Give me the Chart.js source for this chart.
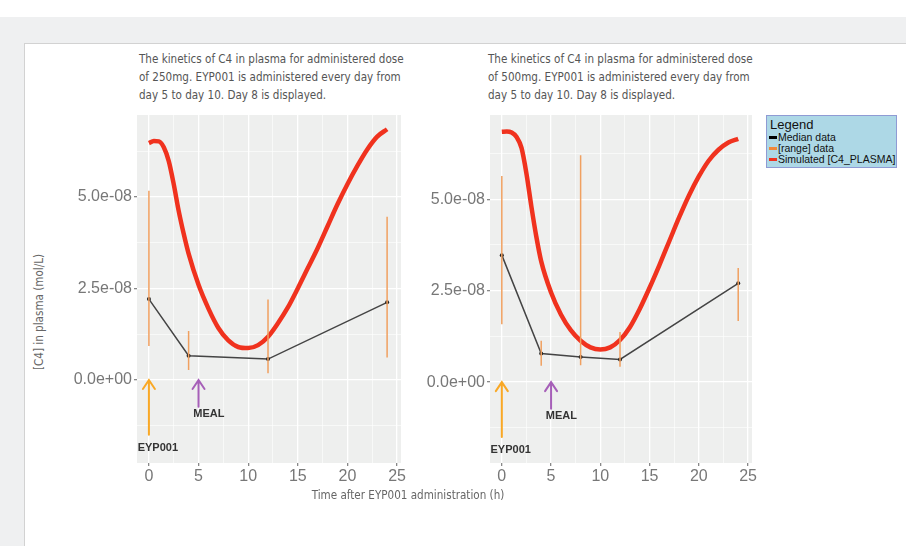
<!DOCTYPE html>
<html>
<head>
<meta charset="utf-8">
<script src="https://cdn.jsdelivr.net/npm/chart.js@4.4.0/dist/chart.umd.min.js"></script>
<style>
  body { margin: 0; width: 906px; height: 546px; overflow: hidden; background: #fff; position: relative; font-family: "Liberation Sans", Arial, sans-serif; }
  #bg { position: absolute; left: 0; top: 17px; width: 906px; height: 529px; background: #eff0f1; }
  #panel { position: absolute; left: 24px; top: 43px; width: 900px; height: 520px; background: #fff; border: 1px solid #d2d2d2; }
  .title { position: absolute; font-family: "Liberation Sans Narrow", "DejaVu Sans Condensed", sans-serif; font-size: 13px; line-height: 18px; color: #555; white-space: nowrap; transform: scaleX(0.89); transform-origin: 0 0; }
  .axtitle { position: absolute; font-family: "Liberation Sans Narrow", "DejaVu Sans Condensed", sans-serif; font-size: 13px; color: #666; white-space: nowrap; }
  .wrap { position: absolute; }
  #legend { position: absolute; left: 766px; top: 115px; width: 129px; height: 51px; background: #add8e6; border: 1px solid #8f9bd4; font-family: "Liberation Sans", Arial, sans-serif; color: #111; }
  #legend .lt { font-size: 13px; line-height: 14px; margin: 2px 0 0 3px; }
  #legend .li { font-size: 10.5px; line-height: 11px; margin-left: 2px; }
  #legend .li span { display: inline-block; width: 8px; height: 3px; vertical-align: middle; margin-right: 1px; position: relative; top: -1px; }
</style>
</head>
<body>
<div id="bg"></div>
<div id="panel"></div>

<div class="title" style="left:139px; top:50px;">The kinetics of C4 in plasma for administered dose<br>of 250mg. EYP001 is administered every day from<br>day 5 to day 10. Day 8 is displayed.</div>
<div class="title" style="left:488px; top:50px;">The kinetics of C4 in plasma for administered dose<br>of 500mg. EYP001 is administered every day from<br>day 5 to day 10. Day 8 is displayed.</div>

<div class="wrap" style="left:60px; top:110px;"><canvas id="c250" width="350" height="380"></canvas></div>
<div class="wrap" style="left:413px; top:110px;"><canvas id="c500" width="348" height="380"></canvas></div>

<div class="axtitle" style="left:38px; top:312px; transform: translate(-50%,-50%) rotate(-90deg) scaleX(0.89);">[C4] in plasma (mol/L)</div>
<div class="axtitle" style="left:408px; top:494px; transform: translate(-50%,-50%) scaleX(0.89);">Time after EYP001 administration (h)</div>

<div id="legend">
  <div class="lt">Legend</div>
  <div class="li"><span style="background:#000"></span>Median data</div>
  <div class="li"><span style="background:#f0883a"></span>[range] data</div>
  <div class="li"><span style="background:#f0321e"></span>Simulated [C4_PLASMA]</div>
</div>

<script>
// simulated C4 curve (h, mol/L)
const simTime = [0, 0.5, 1, 1.5, 2, 2.5, 3, 3.5, 4, 5, 6, 7, 8, 9, 10, 11, 12, 13, 14, 15, 16, 17, 18, 19, 20, 21, 22, 23, 24];
const sim250 = [6.47e-8, 6.53e-8, 6.52e-8, 6.36e-8, 5.98e-8, 5.35e-8, 4.62e-8, 4.00e-8, 3.45e-8, 2.60e-8, 1.95e-8, 1.42e-8, 1.08e-8, 0.90e-8, 0.87e-8, 0.95e-8, 1.18e-8, 1.55e-8, 1.98e-8, 2.50e-8, 3.05e-8, 3.60e-8, 4.20e-8, 4.80e-8, 5.35e-8, 5.85e-8, 6.30e-8, 6.65e-8, 6.85e-8];
const sim500 = [6.84e-8, 6.85e-8, 6.82e-8, 6.70e-8, 6.40e-8, 5.70e-8, 4.80e-8, 3.98e-8, 3.30e-8, 2.45e-8, 1.85e-8, 1.42e-8, 1.13e-8, 0.95e-8, 0.89e-8, 0.95e-8, 1.15e-8, 1.50e-8, 2.00e-8, 2.58e-8, 3.20e-8, 3.85e-8, 4.50e-8, 5.10e-8, 5.62e-8, 6.05e-8, 6.35e-8, 6.55e-8, 6.65e-8];

// observed data
const obsTime250 = [0, 4, 12, 24];
const median250 = [2.21e-8, 0.66e-8, 0.57e-8, 2.12e-8];
const low250 = [0.93e-8, 0.27e-8, 0.18e-8, 0.61e-8];
const high250 = [5.17e-8, 1.34e-8, 2.20e-8, 4.46e-8];

const obsTime500 = [0, 4, 8, 12, 24];
const median500 = [3.47e-8, 0.78e-8, 0.69e-8, 0.62e-8, 2.70e-8];
const low500 = [1.58e-8, 0.45e-8, 0.46e-8, 0.42e-8, 1.67e-8];
const high500 = [5.63e-8, 1.13e-8, 6.20e-8, 1.37e-8, 3.12e-8];

// event markers
const eventLabels = ['EYP001', 'MEAL'];
const eventTime = [0, 5];
const eventFrom = [-1.5e-8, -0.73e-8];
const eventColors = ['#f9a825', '#a65fb8'];
const eventTextX = [0.9, 6.05];
const eventTextY = [-1.85e-8, -0.92e-8];

const xTicks = [0, 5, 10, 15, 20, 25];

function fmtSci(v) {
  if (Math.abs(v) < 1e-20) return '0.0e+00';
  const s = v.toExponential(1);
  const [m, e] = s.split('e');
  const sign = e[0];
  const d = e.slice(1).padStart(2, '0');
  return m + 'e' + sign + d;
}

function isMajorY(v) {
  const r = v / 2.5e-8;
  return Math.abs(r - Math.round(r)) < 1e-6;
}

const panelBg = {
  id: 'panelBg',
  beforeDraw(chart) {
    const { ctx, chartArea: a } = chart;
    ctx.save();
    ctx.fillStyle = '#eeefee';
    ctx.fillRect(a.left, a.top, a.width, a.height);
    ctx.restore();
  }
};

const events = {
  id: 'events',
  afterDatasetsDraw(chart) {
    const { ctx, scales: { x, y } } = chart;
    ctx.save();
    for (let i = 0; i < eventLabels.length; i++) {
      const px = x.getPixelForValue(eventTime[i]);
      const y0 = y.getPixelForValue(eventFrom[i]);
      const y1 = y.getPixelForValue(0);
      ctx.strokeStyle = eventColors[i];
      ctx.lineWidth = 2;
      ctx.lineCap = 'round';
      ctx.beginPath();
      ctx.moveTo(px, y0);
      ctx.lineTo(px, y1);
      ctx.moveTo(px - 6, y1 + 9);
      ctx.lineTo(px, y1);
      ctx.lineTo(px + 6, y1 + 9);
      ctx.stroke();
      ctx.fillStyle = '#333';
      ctx.font = 'bold 11px "Liberation Sans", Arial, sans-serif';
      ctx.textAlign = 'center';
      ctx.textBaseline = 'middle';
      ctx.fillText(eventLabels[i], x.getPixelForValue(eventTextX[i]), y.getPixelForValue(eventTextY[i]));
    }
    ctx.restore();
  }
};

function rangeData(t, lo, hi) {
  const out = [];
  t.forEach((tt, i) => {
    out.push({ x: tt, y: lo[i] }, { x: tt, y: hi[i] }, { x: tt, y: null });
  });
  return out;
}

function makeChart(id, t, med, lo, hi, sim, yMin, yMax) {
  return new Chart(document.getElementById(id), {
    type: 'line',
    data: {
      datasets: [
        {
          label: '[range] data',
          data: rangeData(t, lo, hi),
          borderColor: '#f0a060',
          borderWidth: 1.5,
          pointRadius: 0,
          spanGaps: false
        },
        {
          label: 'Median data',
          data: t.map((tt, i) => ({ x: tt, y: med[i] })),
          borderColor: '#444',
          backgroundColor: '#222',
          borderWidth: 1.5,
          pointRadius: 2,
          pointBorderWidth: 0
        },
        {
          label: 'Simulated [C4_PLASMA]',
          data: simTime.map((tt, i) => ({ x: tt, y: sim[i] })),
          borderColor: '#f0321e',
          borderWidth: 4.5,
          pointRadius: 0,
          cubicInterpolationMode: 'monotone'
        }
      ]
    },
    options: {
      responsive: false,
      animation: false,
      layout: { padding: { top: 5, right: 9, left: 0, bottom: 0 } },
      plugins: { legend: { display: false }, tooltip: { enabled: false } },
      scales: {
        x: {
          type: 'linear',
          min: -1.2,
          max: 25.4,
          afterFit: s => { s.height = 27; s.paddingLeft = 0; s.paddingRight = 0; },
          border: { display: false },
          grid: {
            color: '#ffffff',
            lineWidth: c => (c.tick && c.tick.value % 5 === 0) ? 1.3 : 0.6,
            tickColor: c => (c.tick && c.tick.value % 5 === 0) ? '#888' : 'rgba(0,0,0,0)',
            tickLength: 3
          },
          ticks: {
            stepSize: 2.5,
            includeBounds: false,
            autoSkip: false,
            maxRotation: 0,
            padding: 1,
            color: '#777',
            font: { size: 16, family: '"Liberation Sans", Arial, sans-serif' },
            callback: v => xTicks.includes(v) ? String(v) : ''
          }
        },
        y: {
          type: 'linear',
          min: yMin,
          max: yMax,
          afterFit: s => { s.width = 77; s.paddingTop = 0; s.paddingBottom = 0; },
          border: { display: false },
          grid: {
            color: '#ffffff',
            lineWidth: c => (c.tick && isMajorY(c.tick.value)) ? 1.3 : 0.6,
            tickColor: c => (c.tick && isMajorY(c.tick.value)) ? '#888' : 'rgba(0,0,0,0)',
            tickLength: 3
          },
          ticks: {
            stepSize: 1.25e-8,
            includeBounds: false,
            autoSkip: false,
            padding: 2,
            color: '#777',
            font: { size: 16, family: '"Liberation Sans", Arial, sans-serif' },
            callback: v => {
              if (!isMajorY(v) || v < -1e-12) return '';
              return fmtSci(Math.round(v / 2.5e-8) * 2.5e-8);
            }
          }
        }
      }
    },
    plugins: [panelBg, events]
  });
}

makeChart('c250', obsTime250, median250, low250, high250, sim250, -2.27e-8, 7.24e-8);
makeChart('c500', obsTime500, median500, low500, high500, sim500, -2.21e-8, 7.30e-8);
</script>
</body>
</html>
